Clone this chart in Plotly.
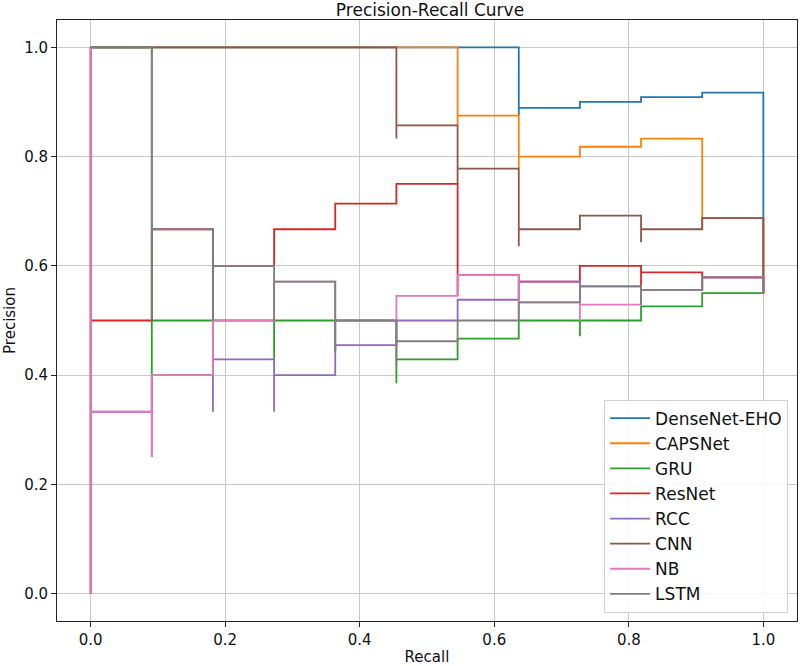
import plotly.graph_objects as go

# ---- data (recall ascending, precision level reached at each point) ----
models = ["DenseNet-EHO", "CAPSNet", "GRU", "ResNet", "RCC", "CNN", "NB", "LSTM"]
colors = ["#1f77b4", "#ff7f0e", "#2ca02c", "#d62728", "#9467bd", "#8c564b", "#e377c2", "#7f7f7f"]

recall_densenet = [0, 0.6364, 0.6364, 0.7273, 0.8182, 0.9091, 1.0, 1.0]
prec_densenet = [1.0, 1.0, 0.875, 0.889, 0.9, 0.909, 0.917, 0.55]

recall_capsnet = [0, 0.5455, 0.5455, 0.6364, 0.6364, 0.7273, 0.8182, 0.9091, 0.9091, 1.0, 1.0]
prec_capsnet = [1.0, 1.0, 0.857, 0.875, 0.778, 0.8, 0.818, 0.833, 0.667, 0.6875, 0.55]

recall_gru = [0, 0.0909, 0.0909, 0.1818, 0.1818, 0.2727, 0.2727, 0.3636, 0.3636, 0.4545, 0.4545,
              0.5455, 0.6364, 0.7273, 0.7273, 0.8182, 0.9091, 1.0]
prec_gru = [1.0, 1.0, 0.333, 0.5, 0.4, 0.5, 0.429, 0.5, 0.444, 0.5, 0.385,
            0.429, 0.467, 0.5, 0.471, 0.5, 0.526, 0.55]

recall_resnet = [0, 0, 0.0909, 0.1818, 0.1818, 0.2727, 0.3636, 0.4545, 0.5455, 0.5455, 0.6364,
                 0.6364, 0.7273, 0.8182, 0.8182, 0.9091, 0.9091, 1.0, 1.0]
prec_resnet = [1.0, 0.0, 0.5, 0.667, 0.5, 0.6, 0.667, 0.714, 0.75, 0.545, 0.583,
               0.538, 0.571, 0.6, 0.5625, 0.588, 0.556, 0.579, 0.55]

recall_rcc = [0, 0, 0.0909, 0.0909, 0.1818, 0.1818, 0.2727, 0.2727, 0.3636, 0.4545, 0.5455,
              0.6364, 0.7273, 0.7273, 0.8182, 0.8182, 0.9091, 1.0, 1.0]
prec_rcc = [1.0, 0.0, 0.333, 0.25, 0.4, 0.333, 0.429, 0.333, 0.4, 0.455, 0.5,
            0.538, 0.571, 0.533, 0.5625, 0.529, 0.556, 0.579, 0.55]

recall_cnn = [0, 0.4545, 0.4545, 0.5455, 0.5455, 0.6364, 0.6364, 0.7273, 0.8182, 0.8182, 0.9091, 1.0, 1.0]
prec_cnn = [1.0, 1.0, 0.833, 0.857, 0.75, 0.778, 0.636, 0.667, 0.692, 0.643, 0.667, 0.6875, 0.55]

recall_nb = [0, 0, 0.0909, 0.0909, 0.1818, 0.2727, 0.3636, 0.3636, 0.4545, 0.5455, 0.6364,
             0.6364, 0.7273, 0.7273, 0.8182, 0.9091, 1.0, 1.0]
prec_nb = [1.0, 0.0, 0.333, 0.25, 0.4, 0.5, 0.571, 0.444, 0.5, 0.545, 0.583,
           0.5, 0.533, 0.5, 0.529, 0.556, 0.579, 0.55]

recall_lstm = [0, 0.0909, 0.0909, 0.1818, 0.1818, 0.2727, 0.2727, 0.3636, 0.3636, 0.4545, 0.4545,
               0.5455, 0.6364, 0.7273, 0.8182, 0.8182, 0.9091, 1.0, 1.0]
prec_lstm = [1.0, 1.0, 0.5, 0.667, 0.5, 0.6, 0.5, 0.571, 0.444, 0.5, 0.417,
             0.462, 0.5, 0.533, 0.5625, 0.529, 0.556, 0.579, 0.55]

tick_vals = [0.0, 0.2, 0.4, 0.6, 0.8, 1.0]
tick_text = ["0.0", "0.2", "0.4", "0.6", "0.8", "1.0"]

series = [
    (recall_densenet, prec_densenet),
    (recall_capsnet, prec_capsnet),
    (recall_gru, prec_gru),
    (recall_resnet, prec_resnet),
    (recall_rcc, prec_rcc),
    (recall_cnn, prec_cnn),
    (recall_nb, prec_nb),
    (recall_lstm, prec_lstm),
]

fig = go.Figure()
for name, color, (r, p) in zip(models, colors, series):
    fig.add_trace(go.Scatter(
        x=r, y=p, mode="lines", name=name,
        line=dict(color=color, width=1.8, shape="vh"),
    ))

FONT = "DejaVu Sans"
axis_common = dict(
    tickvals=tick_vals, ticktext=tick_text,
    showgrid=True, gridcolor="#c8c8c8", gridwidth=1,
    showline=True, linecolor="#222222", linewidth=1, mirror=True,
    ticks="outside", ticklen=5, tickcolor="#222222", tickwidth=1,
    zeroline=False,
    tickfont=dict(family=FONT, size=15, color="#111111"),
)

fig.update_layout(
    width=800, height=666,
    margin=dict(l=57, r=3, t=20, b=45, autoexpand=False),
    paper_bgcolor="white", plot_bgcolor="white",
    font=dict(family=FONT, color="#111111"),
    title=dict(text="Precision-Recall Curve", x=430 / 800, xanchor="center",
               xref="container", y=1 - 10 / 666, yanchor="middle", yref="container",
               font=dict(family=FONT, size=17, color="#111111")),
    xaxis=dict(range=[-0.05, 1.05], title=dict(text="Recall", standoff=3,
               font=dict(family=FONT, size=15)), **axis_common),
    yaxis=dict(range=[-0.05, 1.05], title=dict(text="Precision", standoff=4,
               font=dict(family=FONT, size=15)), **axis_common),
    legend=dict(
        x=0.988, y=0.014, xanchor="right", yanchor="bottom",
        bgcolor="rgba(255,255,255,0.85)", bordercolor="#d0d0d0", borderwidth=1,
        font=dict(family=FONT, size=17, color="#111111"),
        itemwidth=40, tracegroupgap=0,
    ),
    showlegend=True,
)

fig.write_html("out.html", config={"displayModeBar": False},
               post_script="document.body.style.margin='0';document.body.style.padding='0';")
